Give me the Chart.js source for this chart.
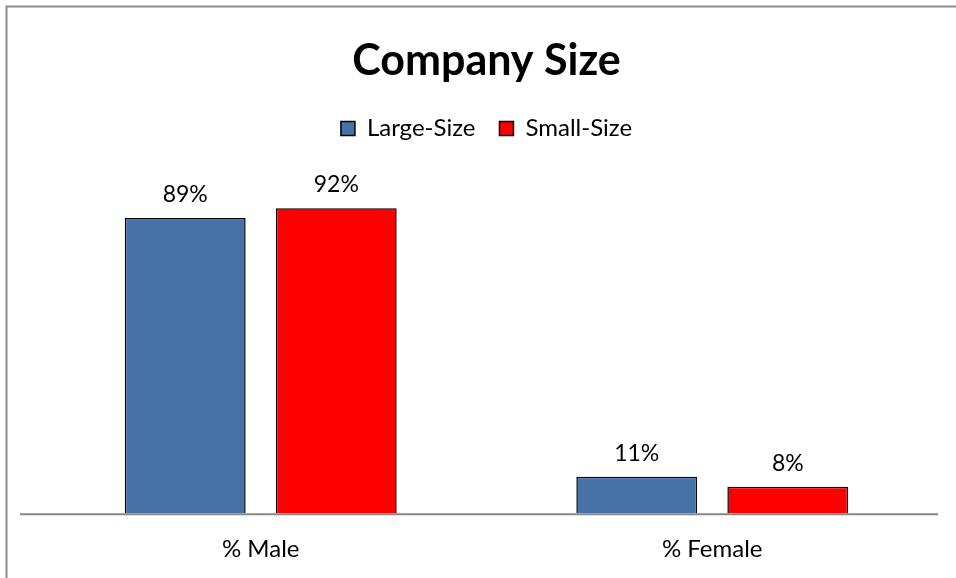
<!DOCTYPE html>
<html>
<head>
<meta charset="utf-8">
<script src="https://cdn.jsdelivr.net/npm/chart.js@4"></script>
<style>
  html, body { margin: 0; padding: 0; background: #fff; overflow: hidden; }
  canvas { display: block; }
</style>
</head>
<body>
<canvas id="c" width="956" height="578"></canvas>
<script>
// Данные графика
const categories = ['% Male', '% Female'];
const largeSize = [89, 11];
const smallSize = [92, 8];
const seriesNames = ['Large-Size', 'Small-Size'];

const FONT = 'Lato, "Open Sans", sans-serif';

// серая рамка (видны только верх и левый край)
const frame = {
  id: 'frame',
  beforeDraw(chart) {
    const ctx = chart.ctx;
    ctx.save();
    ctx.strokeStyle = '#8c8c8c';
    ctx.lineWidth = 2;
    ctx.beginPath();
    ctx.moveTo(6.5, chart.height);
    ctx.lineTo(6.5, 6.5);
    ctx.lineTo(chart.width, 6.5);
    ctx.stroke();
    ctx.restore();
  },
};

// лишний отступ под легендой
const legendGap = {
  id: 'legendGap',
  beforeInit(chart) {
    const fit = chart.legend.fit;
    chart.legend.fit = function () {
      fit.call(this);
      this.height += 31;
    };
  },
};

// подписи значений над столбцами
const valueLabels = {
  id: 'valueLabels',
  afterDatasetsDraw(chart) {
    const ctx = chart.ctx;
    ctx.save();
    ctx.font = `23px ${FONT}`;
    ctx.fillStyle = '#000';
    ctx.textAlign = 'center';
    ctx.textBaseline = 'alphabetic';
    chart.data.datasets.forEach((ds, di) => {
      chart.getDatasetMeta(di).data.forEach((bar, i) => {
        ctx.fillText(ds.data[i] + '%', bar.x, bar.y - 16);
      });
    });
    ctx.restore();
  },
};

// линия оси X (чуть длиннее области графика слева, как в оригинале)
const axisLine = {
  id: 'axisLine',
  afterDatasetsDraw(chart) {
    const { ctx, chartArea } = chart;
    ctx.save();
    ctx.strokeStyle = '#868686';
    ctx.lineWidth = 2;
    ctx.beginPath();
    ctx.moveTo(chartArea.left - 15, chartArea.bottom + 1);
    ctx.lineTo(chartArea.right, chartArea.bottom + 1);
    ctx.stroke();
    ctx.restore();
  },
};

new Chart(document.getElementById('c'), {
  type: 'bar',
  data: {
    labels: categories,
    datasets: [
      { label: seriesNames[0], data: largeSize, backgroundColor: '#4572a7', borderColor: '#000', borderWidth: 1.5 },
      { label: seriesNames[1], data: smallSize, backgroundColor: '#ff0000', borderColor: '#000', borderWidth: 1.5 },
    ],
  },
  options: {
    responsive: false,
    animation: false,
    layout: { padding: { left: 35, right: 18, top: 35, bottom: -8 } },
    datasets: { bar: { categoryPercentage: 0.669, barPercentage: 0.8 } },
    plugins: {
      title: {
        display: true,
        text: 'Company Size',
        color: '#000',
        font: { family: FONT, size: 43, weight: 'bold' },
        padding: { top: 0, bottom: 6 },
      },
      legend: {
        labels: {
          color: '#000',
          font: { family: FONT, size: 24 },
          boxWidth: 14,
          boxHeight: 14,
          padding: 24,
        },
      },
      tooltip: { enabled: false },
    },
    scales: {
      x: {
        grid: { display: false, drawTicks: false },
        border: { display: false },
        ticks: { color: '#000', font: { family: FONT, size: 24 }, padding: 22 },
      },
      y: { display: false, min: 0, max: 100 },
    },
  },
  plugins: [frame, legendGap, valueLabels, axisLine],
});
</script>
</body>
</html>
